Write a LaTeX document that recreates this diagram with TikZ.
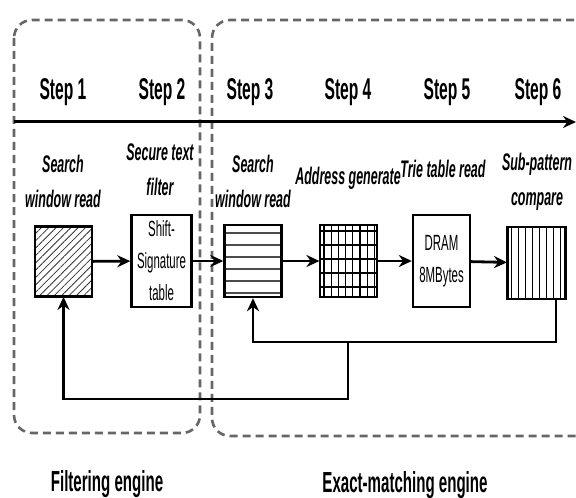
\documentclass[tikz,border=0pt]{standalone}
\usepackage{fontspec}
\setmainfont{Liberation Sans}[FakeStretch=0.52]
\usepackage{tikz}
\usetikzlibrary{arrows.meta,positioning,patterns.meta}

\begin{document}
\begin{tikzpicture}[x=0.5pt, y=-0.5pt, thick]
    % Stili
    \tikzstyle{stage}=[font=\fontsize{15}{18}\selectfont\bfseries, anchor=base]
    \tikzstyle{task}=[font=\fontsize{12}{17.5}\selectfont\bfseries\itshape, align=center]
    \tikzstyle{unit}=[rectangle, draw=black, line width=1.2pt, minimum width=28.5pt, minimum height=35pt, inner sep=0pt]
    \tikzstyle{memory}=[unit, minimum width=30pt, minimum height=46pt, font=\fontsize{11}{16}\selectfont, align=center]
    \tikzstyle{diag}=[pattern={Lines[angle=45,distance=2.6pt,line width=0.4pt]}, pattern color=black!80]
    \tikzstyle{hstripes}=[pattern={Lines[angle=0,distance=6pt,line width=1.2pt]}, pattern color=black!70]
    \tikzstyle{vstripes}=[pattern={Lines[angle=90,distance=3.5pt,line width=0.5pt]}]
    \tikzstyle{grid}=[pattern={Lines[angle=90,distance=3.6pt,line width=0.6pt]}, preaction={pattern={Lines[angle=0,distance=7pt,line width=0.6pt]}}]
    \tikzstyle{arrow}=[->, >={Stealth[length=6.5pt,width=6pt]}, line width=1.4pt]
    \tikzstyle{engine}=[draw=black!60, line width=1.3pt, dash pattern=on 4pt off 2.5pt, rounded corners=9pt]
    \tikzstyle{caption}=[font=\fontsize{14.5}{17}\selectfont\bfseries, anchor=base]

    \useasboundingbox (0,0) rectangle (576,497);
    \clip (0,0) rectangle (576,497);

    % Motori
    \draw [engine] (14,20) rectangle (200,433);
    \draw [engine] (600,20) -- (212,20) -- (212,436) -- (600,436);

    % Asse dei tempi
    \coordinate (t0) at (14,122);
    \coordinate (t1) at (576,122);
    \draw [arrow, line width=1.5pt] (t0) -- (t1);

    % Passi
    \node (s1) [stage] at (63,100) {Step 1};
    \node (s2) [stage] at (162,100) {Step 2};
    \node (s3) [stage] at (250,100) {Step 3};
    \node (s4) [stage] at (348,100) {Step 4};
    \node (s5) [stage] at (447,100) {Step 5};
    \node (s6) [stage] at (538,100) {Step 6};

    % Descrizioni
    \node (d1) [task] at (63,181) {Search\\window read};
    \node (d2) [task] at (160,170) {Secure text\\filter};
    \node (d3) [task] at (253,181) {Search\\window read};
    \node (d4) [task] at (348,178) {Address generate};
    \node (d5) [task] at (443,169) {Trie table read};
    \node (d6) [task] at (537,182) {Sub-pattern\\compare};

    % Nodi
    \node (win1) [unit, diag] at (63.5,261.5) {};
    \node (filter) [memory] at (161.5,261) {Shift-\\Signature\\table};
    \node (win2) [unit, hstripes, minimum height=36pt] at (253,261) {};
    \node (addr) [unit, grid, minimum height=36pt] at (348.5,261) {};
    \node (dram) [memory, minimum width=28.5pt] at (441.5,261) {DRAM\\8MBytes};
    \node (cmp) [unit, vstripes, minimum width=29pt, minimum height=36pt] at (536.5,263) {};

    % Collegamenti
    \draw [arrow] (win1) -- (filter);
    \draw [arrow] (filter) -- (win2);
    \draw [arrow] (win2) -- (addr);
    \draw [arrow] (addr) -- (dram);
    \draw [arrow] (dram) -- (cmp);

    % Ritorni
    \coordinate (fork) at (348,342);
    \coordinate (low) at (348,399);
    \draw [arrow, line width=1.1pt] ([xshift=9.75pt]cmp.south) |- (fork) -| (win2.south);
    \draw [arrow, line width=1.1pt] (fork) -- (low) -| (win1.south);

    % Etichette
    \node (fe) [caption] at (107,491) {Filtering engine};
    \node (ee) [caption] at (405,492) {Exact-matching engine};
\end{tikzpicture}
\end{document}
